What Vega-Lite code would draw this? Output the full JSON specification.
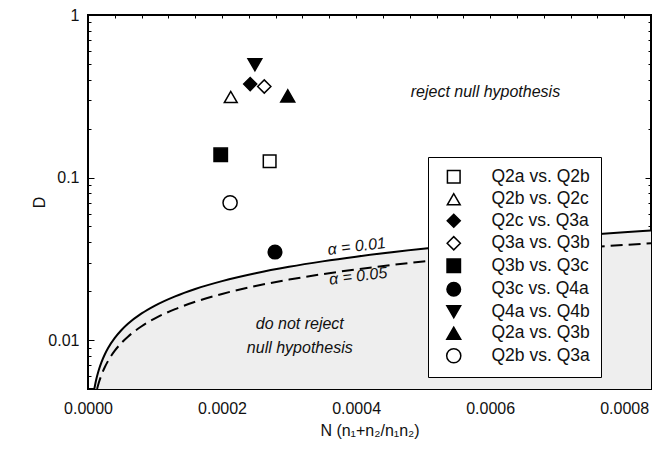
{
  "$schema": "https://vega.github.io/schema/vega-lite/v6.json",
  "width": 563,
  "height": 374,
  "autosize": {"type": "none"},
  "padding": {"left": 88, "top": 15, "right": 6, "bottom": 66},
  "background": "white",
  "datasets": {
    "crit01": [
      {"N": 0.0000094, "D": 0.005}, {"N": 0.000011, "D": 0.00541}, {"N": 0.000013, "D": 0.00588},
      {"N": 0.000016, "D": 0.00652}, {"N": 0.00002, "D": 0.00729}, {"N": 0.000025, "D": 0.00815},
      {"N": 0.00003, "D": 0.00893}, {"N": 0.00004, "D": 0.01031}, {"N": 0.00005, "D": 0.01153},
      {"N": 0.00006, "D": 0.01263}, {"N": 0.00008, "D": 0.01458}, {"N": 0.0001, "D": 0.0163},
      {"N": 0.00013, "D": 0.01858}, {"N": 0.00016, "D": 0.02062}, {"N": 0.0002, "D": 0.02305},
      {"N": 0.00025, "D": 0.02577}, {"N": 0.0003, "D": 0.02823}, {"N": 0.00035, "D": 0.03049},
      {"N": 0.0004, "D": 0.0326}, {"N": 0.0005, "D": 0.03645}, {"N": 0.0006, "D": 0.03993},
      {"N": 0.0007, "D": 0.04313}, {"N": 0.0008, "D": 0.0461}, {"N": 0.00084, "D": 0.04724}
    ],
    "crit05": [
      {"N": 0.0000135, "D": 0.005}, {"N": 0.000016, "D": 0.00544}, {"N": 0.00002, "D": 0.00608},
      {"N": 0.000025, "D": 0.0068}, {"N": 0.00003, "D": 0.00745}, {"N": 0.00004, "D": 0.0086},
      {"N": 0.00005, "D": 0.00962}, {"N": 0.00006, "D": 0.01053}, {"N": 0.00008, "D": 0.01216},
      {"N": 0.0001, "D": 0.0136}, {"N": 0.00013, "D": 0.01551}, {"N": 0.00016, "D": 0.0172},
      {"N": 0.0002, "D": 0.01923}, {"N": 0.00025, "D": 0.0215}, {"N": 0.0003, "D": 0.02356},
      {"N": 0.00035, "D": 0.02544}, {"N": 0.0004, "D": 0.0272}, {"N": 0.0005, "D": 0.03041},
      {"N": 0.0006, "D": 0.03331}, {"N": 0.0007, "D": 0.03598}, {"N": 0.0008, "D": 0.03847},
      {"N": 0.00084, "D": 0.03942}
    ],
    "pairs": [
      {"pair": "Q2a vs. Q2b", "N": 0.000271, "D": 0.126},
      {"pair": "Q2b vs. Q2c", "N": 0.000213, "D": 0.313},
      {"pair": "Q2c vs. Q3a", "N": 0.000242, "D": 0.376},
      {"pair": "Q3a vs. Q3b", "N": 0.000263, "D": 0.363},
      {"pair": "Q3b vs. Q3c", "N": 0.000198, "D": 0.138},
      {"pair": "Q3c vs. Q4a", "N": 0.000279, "D": 0.0348},
      {"pair": "Q4a vs. Q4b", "N": 0.000249, "D": 0.494},
      {"pair": "Q2a vs. Q3b", "N": 0.000298, "D": 0.318},
      {"pair": "Q2b vs. Q3a", "N": 0.000212, "D": 0.070}
    ],
    "notes": [
      {"text": "reject null hypothesis", "N": 0.000593, "D": 0.337},
      {"text": "do not reject", "N": 0.000316, "D": 0.01253},
      {"text": "null hypothesis", "N": 0.000316, "D": 0.00893}
    ],
    "alphas": [
      {"text": "α = 0.01", "N": 0.000401, "D": 0.0377},
      {"text": "α = 0.05", "N": 0.000403, "D": 0.0247}
    ]
  },
  "resolve": {"scale": {"x": "independent", "y": "independent"}, "axis": {"x": "independent", "y": "independent"}},
  "layer": [
    {
      "data": {"name": "crit01"},
      "mark": {"type": "area", "fill": "#eeeeee", "interpolate": "monotone", "clip": true},
      "encoding": {
        "x": {"field": "N", "type": "quantitative",
          "scale": {"domain": [0, 0.00084], "nice": false, "zero": false},
          "axis": {"orient": "bottom", "values": [0, 0.0002, 0.0004, 0.0006, 0.0008], "format": ".4f",
            "ticks": false, "labelPadding": 11, "labelFlush": false, "title": "N (n₁+n₂/n₁n₂)", "titlePadding": 6}},
        "y": {"field": "D", "type": "quantitative",
          "scale": {"type": "log", "domain": [0.005, 1], "nice": false},
          "axis": {"orient": "left", "values": [0.01, 0.1, 1], "format": "~g", "ticks": false,
            "labelPadding": 9, "title": "D", "titlePadding": 0}},
        "y2": {"datum": 0.005}
      }
    },
    {
      "data": {"name": "crit01"},
      "mark": {"type": "line", "color": "black", "strokeWidth": 2, "interpolate": "monotone", "clip": true},
      "encoding": {
        "x": {"field": "N", "type": "quantitative",
          "scale": {"domain": [0, 0.00084], "nice": false, "zero": false},
          "axis": {"orient": "bottom", "values": [0, 0.00004, 0.00008, 0.00012, 0.00016, 0.0002, 0.00024, 0.00028, 0.00032, 0.00036, 0.0004, 0.00044, 0.00048, 0.00052, 0.00056, 0.0006, 0.00064, 0.00068, 0.00072, 0.00076, 0.0008, 0.00084],
            "labels": false, "ticks": true, "tickSize": 3, "offset": -3, "tickColor": "black", "tickWidth": 1, "tickOpacity": 1, "title": null}},
        "y": {"field": "D", "type": "quantitative",
          "scale": {"type": "log", "domain": [0.005, 1], "nice": false},
          "axis": {"orient": "left", "values": [0.006, 0.007, 0.008, 0.009, 0.02, 0.03, 0.04, 0.05, 0.06, 0.07, 0.08, 0.09, 0.2, 0.3, 0.4, 0.5, 0.6, 0.7, 0.8, 0.9],
            "labels": false, "ticks": true, "tickSize": 3, "offset": -3, "tickColor": "black", "tickWidth": 1, "tickOpacity": 1, "title": null}}
      }
    },
    {
      "data": {"name": "crit05"},
      "mark": {"type": "line", "color": "black", "strokeWidth": 2, "strokeDash": [12, 6], "interpolate": "monotone", "clip": true},
      "encoding": {
        "x": {"field": "N", "type": "quantitative",
          "scale": {"domain": [0, 0.00084], "nice": false, "zero": false},
          "axis": {"orient": "bottom", "values": [0, 0.0002, 0.0004, 0.0006, 0.0008], "labels": false, "ticks": true, "tickSize": 6, "offset": -6, "tickColor": "black", "tickWidth": 1, "tickOpacity": 1, "title": null}},
        "y": {"field": "D", "type": "quantitative",
          "scale": {"type": "log", "domain": [0.005, 1], "nice": false},
          "axis": {"orient": "left", "values": [0.01, 0.1, 1], "labels": false, "ticks": true, "tickSize": 6, "offset": -6, "tickColor": "black", "tickWidth": 1, "tickOpacity": 1, "title": null}}
      }
    },
    {
      "data": {"name": "pairs"},
      "mark": {"type": "point", "filled": true, "strokeWidth": 1.5, "opacity": 1},
      "encoding": {
        "x": {"field": "N", "type": "quantitative",
          "scale": {"domain": [0, 0.00084], "nice": false, "zero": false},
          "axis": {"orient": "top", "values": [0, 0.00004, 0.00008, 0.00012, 0.00016, 0.0002, 0.00024, 0.00028, 0.00032, 0.00036, 0.0004, 0.00044, 0.00048, 0.00052, 0.00056, 0.0006, 0.00064, 0.00068, 0.00072, 0.00076, 0.0008, 0.00084],
            "labels": false, "ticks": true, "tickSize": 3, "offset": -3, "tickColor": "black", "tickWidth": 1, "tickOpacity": 1, "title": null}},
        "y": {"field": "D", "type": "quantitative",
          "scale": {"type": "log", "domain": [0.005, 1], "nice": false},
          "axis": {"orient": "right", "values": [0.006, 0.007, 0.008, 0.009, 0.02, 0.03, 0.04, 0.05, 0.06, 0.07, 0.08, 0.09, 0.2, 0.3, 0.4, 0.5, 0.6, 0.7, 0.8, 0.9],
            "labels": false, "ticks": true, "tickSize": 3, "offset": -3, "tickColor": "black", "tickWidth": 1, "tickOpacity": 1, "title": null}},
        "shape": {"field": "pair", "type": "nominal",
          "scale": {"domain": ["Q2a vs. Q2b", "Q2b vs. Q2c", "Q2c vs. Q3a", "Q3a vs. Q3b", "Q3b vs. Q3c", "Q3c vs. Q4a", "Q4a vs. Q4b", "Q2a vs. Q3b", "Q2b vs. Q3a"],
            "range": ["square", "triangle-up", "diamond", "diamond", "square", "circle", "triangle-down", "triangle-up", "circle"]},
          "legend": {"title": null}},
        "fill": {"field": "pair", "type": "nominal",
          "scale": {"domain": ["Q2a vs. Q2b", "Q2b vs. Q2c", "Q2c vs. Q3a", "Q3a vs. Q3b", "Q3b vs. Q3c", "Q3c vs. Q4a", "Q4a vs. Q4b", "Q2a vs. Q3b", "Q2b vs. Q3a"],
            "range": ["white", "white", "black", "white", "black", "black", "black", "black", "white"]},
          "legend": {"title": null}},
        "stroke": {"field": "pair", "type": "nominal",
          "scale": {"domain": ["Q2a vs. Q2b", "Q2b vs. Q2c", "Q2c vs. Q3a", "Q3a vs. Q3b", "Q3b vs. Q3c", "Q3c vs. Q4a", "Q4a vs. Q4b", "Q2a vs. Q3b", "Q2b vs. Q3a"],
            "range": ["black", "black", "black", "black", "black", "black", "black", "black", "black"]},
          "legend": {"title": null}},
        "size": {"field": "pair", "type": "nominal",
          "scale": {"domain": ["Q2a vs. Q2b", "Q2b vs. Q2c", "Q2c vs. Q3a", "Q3a vs. Q3b", "Q3b vs. Q3c", "Q3c vs. Q4a", "Q4a vs. Q4b", "Q2a vs. Q3b", "Q2b vs. Q3a"],
            "range": [160, 200, 250, 250, 170, 190, 200, 200, 190]},
          "legend": {"title": null}}
      }
    },
    {
      "data": {"name": "notes"},
      "mark": {"type": "text", "font": "Liberation Sans", "fontSize": 16, "fontStyle": "italic", "color": "#111111", "align": "center", "baseline": "middle"},
      "encoding": {
        "x": {"field": "N", "type": "quantitative",
          "scale": {"domain": [0, 0.00084], "nice": false, "zero": false}, "axis": null},
        "y": {"field": "D", "type": "quantitative",
          "scale": {"type": "log", "domain": [0.005, 1], "nice": false},
          "axis": {"orient": "right", "values": [0.01, 0.1, 1], "labels": false, "ticks": true, "tickSize": 6, "offset": -6, "tickColor": "black", "tickWidth": 1, "tickOpacity": 1, "title": null}},
        "text": {"field": "text"}
      }
    },
    {
      "data": {"name": "alphas"},
      "mark": {"type": "text", "font": "Liberation Sans", "fontSize": 16, "fontStyle": "italic", "color": "#111111", "align": "center", "baseline": "middle", "angle": -7},
      "encoding": {
        "x": {"field": "N", "type": "quantitative",
          "scale": {"domain": [0, 0.00084], "nice": false, "zero": false}, "axis": null},
        "y": {"field": "D", "type": "quantitative",
          "scale": {"type": "log", "domain": [0.005, 1], "nice": false}, "axis": null},
        "text": {"field": "text"}
      }
    }
  ],
  "config": {
    "view": {"stroke": "black", "strokeWidth": 2},
    "axis": {
      "grid": false, "domain": false, "zindex": 1,
      "labelFont": "Liberation Sans", "labelFontSize": 16, "labelColor": "#111111",
      "titleFont": "Liberation Sans", "titleFontSize": 16, "titleFontWeight": "normal", "titleColor": "#111111",
      "tickColor": "black", "tickWidth": 1, "tickOpacity": 1
    },
    "legend": {
      "orient": "none", "legendX": 340, "legendY": 142,
      "strokeColor": "black", "fillColor": "white", "padding": 11,
      "labelFont": "Liberation Sans", "labelFontSize": 17.5, "labelColor": "#111111",
      "rowPadding": 2.5, "labelOffset": 29, "symbolOffset": 6,
      "symbolStrokeColor": "black", "symbolStrokeWidth": 1.5, "symbolOpacity": 1
    }
  }
}
